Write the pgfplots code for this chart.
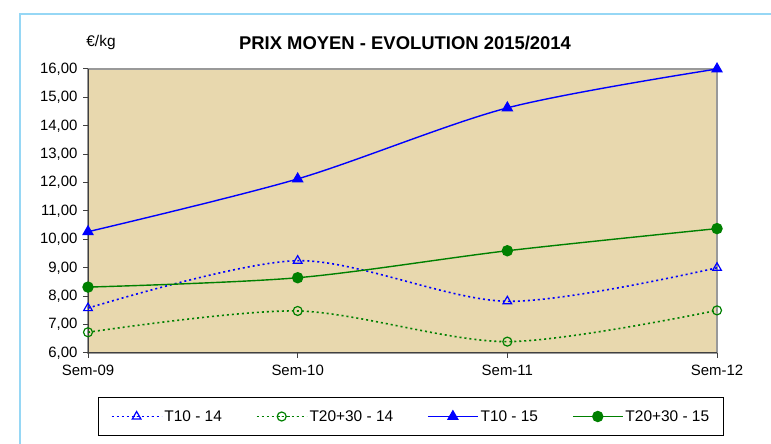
\documentclass[border=0pt]{standalone}
\usepackage{pgfplots}
\pgfplotsset{compat=1.18}
\usepackage{fontspec}
\setmainfont{Liberation Sans}
\definecolor{bgtan}{RGB}{232,216,174}
\definecolor{frameblue}{RGB}{150,215,245}
\definecolor{dgreen}{RGB}{0,128,0}
\begin{document}
\begin{tikzpicture}[x=1bp,y=1bp]
\useasboundingbox (0,0) rectangle (771,444);
\draw[frameblue,line width=1.5bp] (20,0) -- (20,430) -- (771,430);
\node[font=\bfseries\fontsize{18.5}{20}\selectfont] at (405,401) {PRIX MOYEN - EVOLUTION 2015/2014};
\node[font=\fontsize{15.5}{18}\selectfont] at (101,401) {€/kg};
\begin{axis}[
  at={(88bp,91bp)}, anchor=south west,
  width=629bp, height=284bp, scale only axis,
  xmin=0, xmax=3, ymin=6, ymax=16,
  xtick={0,1,2,3}, xticklabels={Sem-09,Sem-10,Sem-11,Sem-12},
  ytick={6,7,...,16},
  /pgf/number format/assume math mode=true,
  tick label style={font=\fontsize{15}{18}\selectfont},
  yticklabel style={xshift=-2bp,/pgf/number format/.cd,fixed,fixed zerofill,precision=2,use comma},
  tick align=outside, tick pos=left,
  major tick length=5bp,
  axis background/.style={fill=bgtan, draw=gray!80, line width=1.5bp},
  axis x line*=bottom, axis y line*=left,
  axis line style={draw=black!75, line width=1bp, -},
  every tick/.style={black!75, line width=1bp},
  xticklabel style={yshift=-4bp},
  clip=false,
  legend columns=4,
  legend image code/.code={\draw[mark repeat=2,mark phase=2] plot coordinates {(0bp,0bp)(25bp,0bp)(50bp,0bp)};},
  legend style={at={(0.5135,-0.2236)},anchor=center,draw=black,line width=0.8bp,
    font=\fontsize{15.5}{18}\selectfont,
    /tikz/every even column/.append style={column sep=32bp},
    inner xsep=12bp, inner ysep=11bp},
]
\addplot[blue, dash pattern=on 2bp off 3bp, line width=1.6bp, smooth, mark=triangle, mark size=5bp, mark options={solid,fill=none,line width=1.2bp}]
  coordinates {(0,7.58) (1,9.25) (2,7.82) (3,9.00)};
\addlegendentry{T10 - 14}
\addplot[dgreen, dash pattern=on 2bp off 3bp, line width=1.6bp, smooth, mark=o, mark size=4.5bp, mark options={solid,fill=none,line width=1.2bp}]
  coordinates {(0,6.73) (1,7.48) (2,6.40) (3,7.50)};
\addlegendentry{T20+30 - 14}
\addplot[blue, line width=1.4bp, smooth, mark=triangle*, mark size=5.5bp, mark options={solid}]
  coordinates {(0,10.27) (1,12.13) (2,14.63) (3,16.00)};
\addlegendentry{T10 - 15}
\addplot[dgreen, line width=1.4bp, smooth, mark=*, mark size=5bp, mark options={solid}]
  coordinates {(0,8.32) (1,8.65) (2,9.60) (3,10.38)};
\addlegendentry{T20+30 - 15}
\end{axis}
\end{tikzpicture}
\end{document}
